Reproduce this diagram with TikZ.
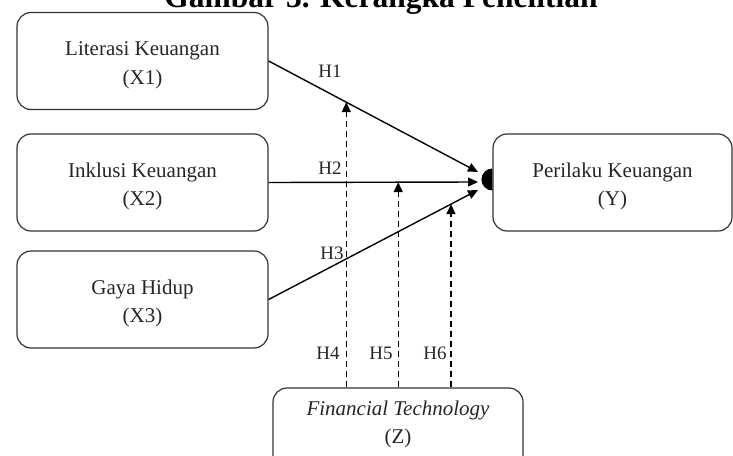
\documentclass[tikz,border=0pt]{standalone}
\usepackage{fontspec}
\setmainfont{Liberation Serif}
\usetikzlibrary{arrows.meta}

\begin{document}
\begin{tikzpicture}[x=1pt,y=-1pt,
  var/.style={draw=black!80,line width=1.2pt,rounded corners=14pt,minimum width=251pt,minimum height=97pt,
    inner sep=0pt,align=center,text=black!85,font=\fontsize{21}{28.5}\selectfont,text height=46pt,text depth=0pt},
  hyp/.style={inner sep=0pt,text=black!85,font=\fontsize{19}{22}\selectfont},
  link/.style={line width=1.4pt,-{Triangle[length=10pt,width=9pt]}},
  moder/.style={link,dash pattern=on 6pt off 4pt}]
\useasboundingbox (0,0) rectangle (733,455);
\clip (0,0) rectangle (733,455);
\node[anchor=base,font=\bfseries\fontsize{31.5}{36}\selectfont] (title) at (381,7) {Gambar 3. Kerangka Penelitian};
\foreach \i/\yy/\txt in {1/61/Literasi Keuangan,2/182.5/Inklusi Keuangan,3/299.5/Gaya Hidup}
\node[var] (x\i) at (142.5,\yy) {\txt\\(X\i)};
\node[var,minimum width=239pt] (y) at (612.5,182.5) {Perilaku Keuangan\\(Y)};
\node[var,minimum width=250pt,text height=14pt] (z) at (398,436.5) {\textit{Financial Technology}\\(Z)};
\fill ([yshift=14pt]y.west) arc (90:270:11pt);
\coordinate (t1) at (478,172);
\coordinate (t2) at (478,182);
\coordinate (t3) at (478,190);
\draw[link] (x1.east) -- (t1) coordinate[pos=.371] (m1);
\draw[link] (x2.east) -- (t2) coordinate[pos=.619] (m2);
\draw[link] (x3.east) -- (t3) coordinate[pos=.871] (m3);
\foreach \k in {1,2,3}
\draw[moder] (z.north -| m\k) -- (m\k);
\node[hyp] (h1) at (330,71) {H1};
\node[hyp] (h2) at (330,168) {H2};
\node[hyp] (h3) at (332,253) {H3};
\node[hyp] (h4) at (328,353) {H4};
\node[hyp] (h5) at (381,353) {H5};
\node[hyp] (h6) at (435,353) {H6};
\end{tikzpicture}
\end{document}
